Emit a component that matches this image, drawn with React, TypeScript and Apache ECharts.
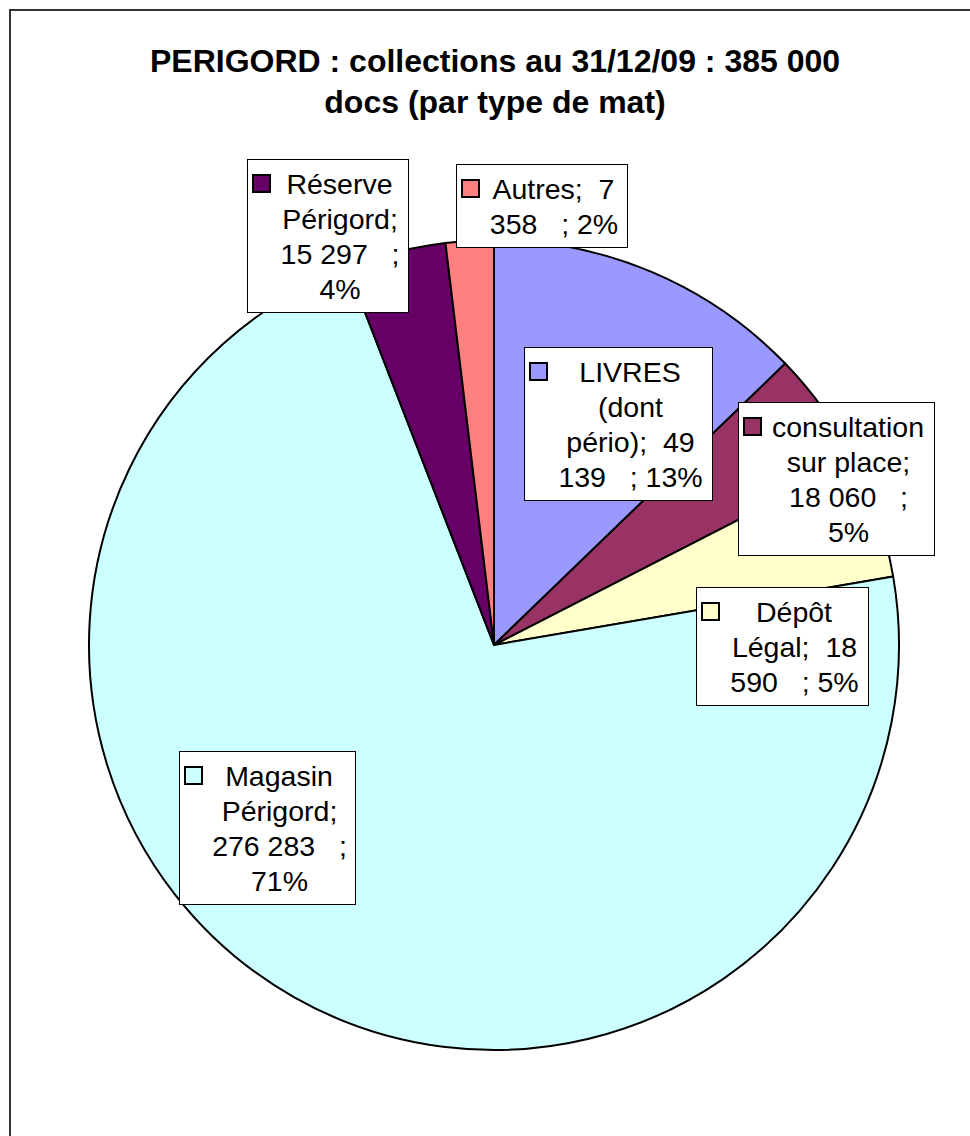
import React, { useEffect, useRef } from "react";
import * as echarts from "echarts";

// ---- data ----
const titleLines = ["PERIGORD : collections au 31/12/09 : 385 000", "docs (par type de mat)"];
const categories = [
  "LIVRES (dont pério)",
  "consultation sur place",
  "Dépôt Légal",
  "Magasin Périgord",
  "Réserve Périgord",
  "Autres",
];
const values = [49139, 18060, 18590, 276283, 15297, 7358];
const percents = [13, 5, 5, 71, 4, 2];

// ---- styles / layout (kept apart from the data) ----
const colors = ["#9999FF", "#993366", "#FFFFCC", "#CCFFFF", "#660066", "#FF8080"];
// label box: left, top, outer width
const labelBoxes = [
  [525, 348, 187],
  [739, 403, 195],
  [697, 588, 171],
  [180, 752, 175],
  [248, 160, 160],
  [457, 165, 170],
];
const wrapWidths = [147, 157, 142, 148, 137, 142];

const FONT = '"Liberation Sans", Arial, sans-serif';
const LABEL_SIZE = 28.5;
const LINE_H = 35;
const PAD = [6, 4, 6, 6];

function fmtNum(v: number): string {
  return String(v).replace(/\B(?=(\d{3})+(?!\d))/g, " ");
}

let measureCtx: CanvasRenderingContext2D | null = null;
function measure(s: string): number {
  if (!measureCtx) {
    measureCtx = document.createElement("canvas").getContext("2d");
    if (measureCtx) measureCtx.font = `${LABEL_SIZE}px ${FONT}`;
  }
  return measureCtx ? measureCtx.measureText(s).width : s.length * LABEL_SIZE * 0.55;
}

function wrap(text: string, maxW: number): string[] {
  const parts = text.split(/( +)/);
  const lines: string[] = [];
  let cur = "";
  for (let i = 0; i < parts.length; i += 2) {
    const word = parts[i];
    if (word === "") continue;
    const sep = i > 0 ? parts[i - 1] : "";
    if (cur === "") {
      cur = word;
      continue;
    }
    const trial = cur + sep + word;
    if (measure(trial) <= maxW) cur = trial;
    else {
      lines.push(cur);
      cur = word;
    }
  }
  if (cur) lines.push(cur);
  return lines;
}

function labelText(i: number): string {
  const raw = `${categories[i]};  ${fmtNum(values[i])}   ; ${percents[i]}%`;
  const lines = wrap(raw, wrapWidths[i]);
  return lines
    .map((l, k) => (k === 0 ? `{m${i}|}{s1|}{t|${l}}` : `{s2|}{t|${l}}`))
    .join("\n");
}

export default function App() {
  const ref = useRef<HTMLDivElement>(null);

  useEffect(() => {
    if (!ref.current) return;
    const chart = echarts.init(ref.current, undefined, { renderer: "svg" });

    const rich: Record<string, any> = {
      s1: { width: 6, height: 10, align: "left", verticalAlign: "middle", lineHeight: LINE_H },
      s2: { width: 22, height: 10, align: "left", verticalAlign: "middle", lineHeight: LINE_H },
      t: {
        fontFamily: FONT,
        fontSize: LABEL_SIZE,
        color: "#000",
        align: "center",
        verticalAlign: "middle",
        lineHeight: LINE_H,
        textBorderWidth: 0,
      },
    };
    colors.forEach((c, i) => {
      rich["m" + i] = {
        width: 15,
        height: 15,
        backgroundColor: c,
        borderColor: "#000",
        borderWidth: 2,
        align: "left",
        verticalAlign: "middle",
        lineHeight: LINE_H,
      };
    });

    const data = categories.map((name, i) => ({
      name,
      value: values[i],
      itemStyle: { color: colors[i] },
      label: { width: labelBoxes[i][2] - PAD[1] - PAD[3] },
    }));

    chart.setOption({
      animation: false,
      backgroundColor: "#ffffff",
      title: {
        text: titleLines.join("\n"),
        left: 495,
        top: 40,
        padding: 0,
        textAlign: "center",
        textStyle: {
          fontFamily: FONT,
          fontSize: 32,
          fontWeight: "bold",
          lineHeight: 41,
          color: "#000",
        },
      },
      graphic: [
        {
          type: "rect",
          silent: true,
          z: 100,
          shape: { x: 10, y: 10, width: 1100, height: 1300 },
          style: { fill: "none", stroke: "#333333", lineWidth: 2 },
        },
      ],
      series: [
        {
          type: "pie",
          center: [494, 645],
          radius: 405,
          startAngle: 90,
          clockwise: true,
          avoidLabelOverlap: false,
          silent: true,
          emphasis: { disabled: true },
          itemStyle: { borderColor: "#000", borderWidth: 2 },
          label: {
            show: true,
            position: "inside",
            formatter: (p: any) => labelText(p.dataIndex),
            rich,
            overflow: "none",
            fontFamily: FONT,
            fontSize: LABEL_SIZE,
            lineHeight: LINE_H,
            color: "#000",
            textBorderWidth: 0,
            backgroundColor: "#ffffff",
            borderColor: "#000",
            borderWidth: 1,
            padding: PAD,
            rotate: 0,
          },
          labelLine: { show: false },
          labelLayout: (p: any) => {
            const b = labelBoxes[p.dataIndex];
            return { x: b[0], y: b[1], align: "left", verticalAlign: "top" };
          },
          data,
        },
      ],
    });

    return () => chart.dispose();
  }, []);

  return (
    <div
      ref={ref}
      style={{ position: "absolute", left: 0, top: 0, width: 970, height: 1136 }}
    />
  );
}
